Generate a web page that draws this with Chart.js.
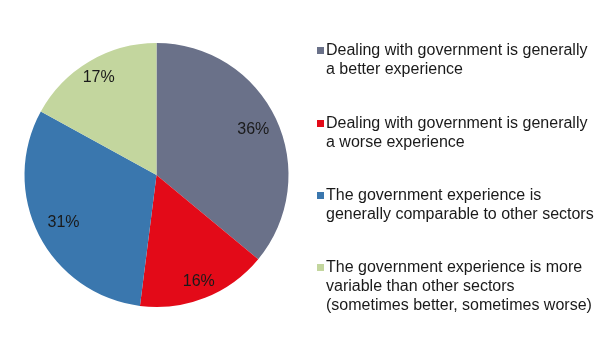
<!DOCTYPE html>
<html>
<head>
<meta charset="utf-8">
<script src="https://cdn.jsdelivr.net/npm/chart.js@4/dist/chart.umd.min.js"></script>
<style>
  html, body { margin: 0; padding: 0; background: #fff; }
  #wrap { width: 608px; height: 349px; }
</style>
</head>
<body>
<div id="wrap"><canvas id="pie-chart"></canvas></div>
<script>
// survey answers, clockwise from 12 o'clock
const answers = [
  ["Dealing with government is generally", "a better experience"],
  ["Dealing with government is generally", "a worse experience"],
  ["The government experience is", "generally comparable to other sectors"],
  ["The government experience is more", "variable than other sectors", "(sometimes better, sometimes worse)"]
];
const shares = [36, 16, 31, 17];
const sliceColors = ["#6A7189", "#E30A18", "#3A77AE", "#C3D69E"];

const FONT = "Liberation Sans, Arial, sans-serif";

// how far out (fraction of radius) each percent label sits
const labelDepth = [0.81, 0.87, 0.79, 0.86];

// percent text inside each slice
const sliceLabels = {
  id: "sliceLabels",
  afterDatasetsDraw(chart) {
    const ctx = chart.ctx;
    const meta = chart.getDatasetMeta(0);
    ctx.save();
    ctx.font = "16px " + FONT;
    ctx.fillStyle = "#1a1a1a";
    ctx.textAlign = "center";
    ctx.textBaseline = "middle";
    meta.data.forEach((arc, i) => {
      const mid = (arc.startAngle + arc.endAngle) / 2;
      const r = arc.outerRadius * labelDepth[i];
      ctx.fillText(shares[i] + "%", arc.x + Math.cos(mid) * r, arc.y + Math.sin(mid) * r);
    });
    ctx.restore();
  }
};

// legend on the right, square marker next to the first line
const sideLegend = {
  id: "sideLegend",
  afterDraw(chart) {
    const ctx = chart.ctx;
    const x0 = 317, tx = 326;
    const tops = [51, 124, 196, 268];
    const lineH = 19;
    ctx.save();
    ctx.font = "16px " + FONT;
    ctx.textBaseline = "middle";
    answers.forEach((lines, i) => {
      ctx.fillStyle = sliceColors[i];
      ctx.fillRect(x0, tops[i] - 4, 7, 7);
      ctx.fillStyle = "#1a1a1a";
      lines.forEach((t, j) => ctx.fillText(t, tx, tops[i] + j * lineH));
    });
    ctx.restore();
  }
};

new Chart(document.getElementById("pie-chart"), {
  type: "pie",
  data: {
    labels: answers.map(a => a.join(" ")),
    datasets: [{
      data: shares,
      backgroundColor: sliceColors,
      borderWidth: 0
    }]
  },
  options: {
    responsive: true,
    maintainAspectRatio: false,
    animation: false,
    layout: { padding: { left: 24, top: 43, bottom: 42, right: 319 } },
    plugins: {
      legend: { display: false },
      tooltip: { enabled: false }
    }
  },
  plugins: [sliceLabels, sideLegend]
});
</script>
</body>
</html>
